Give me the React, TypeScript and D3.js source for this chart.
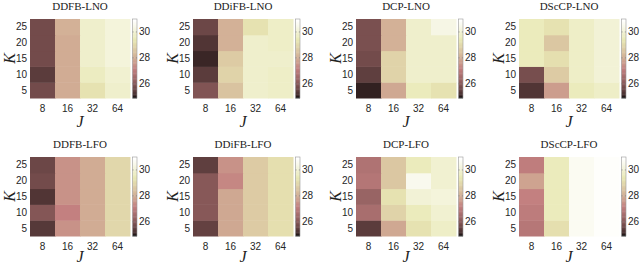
import * as d3 from 'd3';

const jLabels = ['8', '16', '32', '64'];
const kLabels = ['5', '10', '15', '20', '25'];
const cbTicks = [26, 28, 30];
const cDomain = [24.9, 31.0];

const titles = [
  'DDFB-LNO', 'DDiFB-LNO', 'DCP-LNO', 'DScCP-LNO',
  'DDFB-LFO', 'DDiFB-LFO', 'DCP-LFO', 'DScCP-LFO',
];

// rows: K = 5, 10, 15, 20, 25 ; columns: J = 8, 16, 32, 64
const ddfbLno = [
  [25.7, 28.0, 29.3, 29.9],
  [25.4, 28.0, 29.7, 30.0],
  [25.7, 28.0, 29.9, 30.2],
  [25.7, 28.0, 29.9, 30.2],
  [25.7, 28.1, 29.9, 30.2],
];
const ddifbLno = [
  [25.9, 28.5, 29.9, 29.8],
  [25.4, 28.9, 29.9, 29.8],
  [25.1, 28.7, 29.9, 29.9],
  [25.3, 28.1, 29.9, 29.8],
  [25.6, 28.1, 29.3, 29.8],
];
const dcpLno = [
  [25.05, 27.9, 29.6, 29.3],
  [25.45, 28.9, 29.9, 29.9],
  [25.7, 28.9, 29.9, 29.9],
  [25.8, 28.1, 29.9, 29.9],
  [25.8, 28.1, 29.9, 30.4],
];
const dsccpLno = [
  [25.3, 27.7, 29.6, 29.8],
  [25.75, 28.7, 29.8, 30.1],
  [29.6, 29.2, 29.8, 30.1],
  [29.6, 28.6, 29.8, 30.1],
  [29.6, 29.3, 29.8, 30.1],
];
const ddfbLfo = [
  [25.35, 27.5, 28.0, 29.0],
  [25.95, 27.2, 28.0, 29.0],
  [25.3, 27.5, 28.0, 29.0],
  [25.7, 27.5, 28.0, 29.0],
  [25.6, 27.5, 28.0, 29.0],
];
const ddifbLfo = [
  [25.5, 27.9, 28.7, 29.2],
  [26.0, 27.9, 28.7, 29.2],
  [26.0, 27.9, 28.7, 29.2],
  [26.0, 27.3, 28.7, 29.2],
  [25.45, 27.5, 28.7, 29.2],
];
const dcpLfo = [
  [25.4, 27.9, 29.3, 29.8],
  [26.6, 28.9, 29.6, 30.0],
  [26.3, 29.3, 30.1, 30.2],
  [26.85, 28.6, 30.6, 30.0],
  [26.75, 28.6, 29.6, 30.0],
];
const dsccpLfo = [
  [26.9, 29.2, 30.7, 30.9],
  [27.05, 29.6, 30.7, 30.9],
  [27.2, 29.6, 30.7, 30.9],
  [27.8, 29.6, 30.7, 30.9],
  [27.1, 29.6, 30.7, 30.9],
];

const panels = [ddfbLno, ddifbLno, dcpLno, dsccpLno, ddfbLfo, ddifbLfo, dcpLfo, dsccpLfo];

// MATLAB "pink": sqrt((2*gray + hot)/3)
const pink = (t: number) => {
  const c = (v: number) => Math.max(0, Math.min(1, v));
  const hr = c(t / 0.375);
  const hg = c((t - 0.375) / 0.375);
  const hb = c((t - 0.75) / 0.25);
  const f = (h: number) => Math.round(255 * Math.sqrt((2 * t + h) / 3));
  return `rgb(${f(hr)},${f(hg)},${f(hb)})`;
};

const norm = d3.scaleLinear().domain(cDomain).range([0, 1]).clamp(true);
const color = (v: number) => pink(norm(v));

const specs = {
  left: 30,
  stepX: 163,
  tops: [19, 157],
  jOffset: [29, 26],
  w: 100,
  h: 79,
  cbGap: 2.5,
  cbW: 4.5,
};

const axisFont = 'Liberation Sans, Arial, sans-serif';
const serif = 'Liberation Serif, Times New Roman, serif';

const Panel = ({ data, title, x0, y0, jOff }: { data: number[][]; title: string; x0: number; y0: number; jOff: number }) => {
  const x = d3.scaleBand().domain(jLabels).range([x0, x0 + specs.w]);
  const y = d3.scaleBand().domain(kLabels).range([y0 + specs.h, y0]);
  const cbX = x0 + specs.w + specs.cbGap;
  const cbY = d3.scaleLinear().domain(cDomain).range([y0 + specs.h, y0]);
  const steps = d3.range(0, 64);
  const half = (cDomain[1] - cDomain[0]) / 128;
  const stepVal = d3.scaleLinear().domain([0, 63]).range([cDomain[0] + half, cDomain[1] - half]);

  return (
    <g>
      <text x={x0 + specs.w / 2} y={y0 - 9} textAnchor="middle" fontFamily={serif} fontSize={11} fill="#222">
        {title}
      </text>
      {data.map((row, ki) =>
        row.map((v, ji) => (
          <rect
            key={`${ki}-${ji}`}
            x={x(jLabels[ji])!}
            y={y(kLabels[ki])!}
            width={x.bandwidth() + 0.5}
            height={y.bandwidth() + 0.5}
            fill={color(v)}
          />
        ))
      )}
      {kLabels.map((k) => (
        <text key={k} x={x0 - 3} y={y(k)! + y.bandwidth() / 2} dy="0.35em" textAnchor="end" fontFamily={axisFont} fontSize={10} fill="#262626">
          {k}
        </text>
      ))}
      {jLabels.map((j) => (
        <text key={j} x={x(j)! + x.bandwidth() / 2} y={y0 + specs.h + 14} textAnchor="middle" fontFamily={axisFont} fontSize={10} fill="#262626">
          {j}
        </text>
      ))}
      <text
        transform={`translate(${x0 - 15},${y0 + specs.h / 2}) rotate(-90)`}
        textAnchor="middle"
        fontFamily={serif}
        fontStyle="italic"
        fontSize={16}
        fill="#222"
      >
        K
      </text>
      <text x={x0 + specs.w / 2} y={y0 + specs.h + jOff} textAnchor="middle" fontFamily={serif} fontStyle="italic" fontSize={16} fill="#222">
        J
      </text>
      {steps.map((s) => {
        const top = cbY(stepVal(s) + half);
        const bot = cbY(stepVal(s) - half);
        return (
          <rect key={s} x={cbX} y={top} width={specs.cbW} height={bot - top + 0.4} fill={pink(s / 63)} />
        );
      })}
      <rect x={cbX} y={y0} width={specs.cbW} height={specs.h} fill="none" stroke="#9a9a9a" strokeWidth={0.6} />
      {cbTicks.map((t) => (
        <g key={t}>
          <line x1={cbX} x2={cbX + 1.2} y1={cbY(t)} y2={cbY(t)} stroke="#666" strokeWidth={0.5} />
          <line x1={cbX + specs.cbW - 1.2} x2={cbX + specs.cbW} y1={cbY(t)} y2={cbY(t)} stroke="#666" strokeWidth={0.5} />
          <text x={cbX + specs.cbW + 2} y={cbY(t)} dy="0.35em" fontFamily={axisFont} fontSize={10} fill="#262626">
            {t}
          </text>
        </g>
      ))}
    </g>
  );
};

export default function App() {
  return (
    <svg width={640} height={265} style={{ position: 'absolute', left: 0, top: 0, background: '#fff' }}>
      <rect width={640} height={265} fill="#fff" />
      {panels.map((p, i) => (
        <Panel
          key={i}
          data={p}
          title={titles[i]}
          x0={specs.left + (i % 4) * specs.stepX}
          y0={specs.tops[Math.floor(i / 4)]}
          jOff={specs.jOffset[Math.floor(i / 4)]}
        />
      ))}
    </svg>
  );
}
